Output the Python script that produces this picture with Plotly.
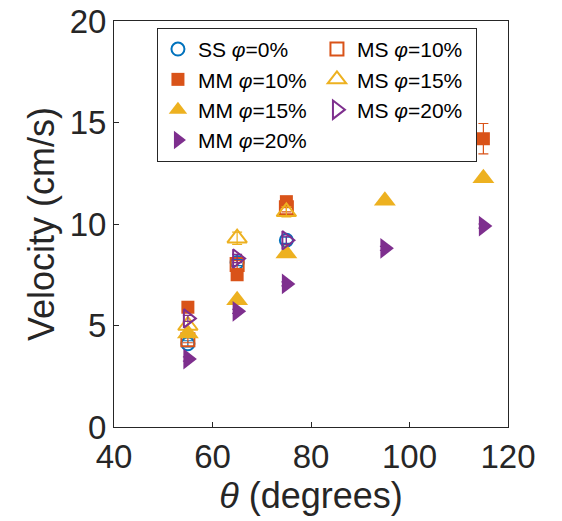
import plotly.graph_objects as go

# ---- data ----
theta_ms = [55, 65, 75]
theta_mm = [55, 65, 75, 95, 115]

ss0_v = [4.1, 8.1, 9.2]
ss0_e = [0.15, 0.15, 0.15]

ms10_v = [4.3, 8.0, 10.8]
ms10_e = [0.15, 0.2, 0.2]
ms15_v = [5.0, 9.3, 10.6]
ms15_e = [0.2, 0.3, 0.25]
ms20_v = [5.35, 8.3, 9.2]
ms20_e = [0.15, 0.2, 0.2]

mm10_v = [5.9, 7.5, 11.1, 13.85, 14.2]
mm10_e = [0.1, 0.1, 0.15, 0.1, 0.75]
mm15_v = [4.6, 6.25, 8.55, 11.15, 12.25]
mm15_e = [0.1, 0.1, 0.1, 0.1, 0.1]
mm20_v = [3.35, 5.7, 7.05, 8.8, 9.9]
mm20_e = [0.1, 0.1, 0.1, 0.1, 0.1]

BLUE = "#0072BD"
ORANGE = "#D95319"
YELLOW = "#EDB120"
PURPLE = "#7E2F8E"

FONT = "Liberation Sans, Arial, Helvetica, sans-serif"

fig = go.Figure()

def add(name, x, y, e, color, symbol, size, open_=False):
    marker = dict(color=color, symbol=symbol, size=size)
    if open_:
        marker["symbol"] = symbol + "-open"
        marker["line"] = dict(color=color, width=2)
    else:
        marker["line"] = dict(width=0)
    fig.add_trace(go.Scatter(
        x=x, y=y, name=name, mode="markers", marker=marker,
        error_y=dict(type="data", array=e, color=color, thickness=1.2, width=5),
    ))

# row-major order so the horizontal legend shows two columns like the reference
add("SS <i>φ</i>=0%", theta_ms, ss0_v, ss0_e, BLUE, "circle", 13, open_=True)
add("MS <i>φ</i>=10%", theta_ms, ms10_v, ms10_e, ORANGE, "square", 13, open_=True)
add("MM <i>φ</i>=10%", theta_mm, mm10_v, mm10_e, ORANGE, "square", 13)
add("MS <i>φ</i>=15%", theta_ms, ms15_v, ms15_e, YELLOW, "triangle-up", 17, open_=True)
add("MM <i>φ</i>=15%", theta_mm, mm15_v, mm15_e, YELLOW, "triangle-up", 19)
add("MS <i>φ</i>=20%", theta_ms, ms20_v, ms20_e, PURPLE, "triangle-right", 16, open_=True)
add("MM <i>φ</i>=20%", theta_mm, mm20_v, mm20_e, PURPLE, "triangle-right", 18)

axis_common = dict(
    showline=True, linecolor="#262626", linewidth=1, mirror=True,
    ticks="inside", ticklen=5, tickcolor="#262626",
    showgrid=False, zeroline=False, automargin=False,
    ticklabeloverflow="allow",
    tickfont=dict(family=FONT, size=33, color="#262626"),
)

# the page body adds an 8px offset, so the figure is 8px smaller with shifted margins
fig.update_layout(
    width=554, height=513,
    margin=dict(l=106, r=54, t=13, b=94),
    paper_bgcolor="white", plot_bgcolor="white",
    font=dict(family=FONT, color="#262626"),
    xaxis=dict(range=[40, 120], tickvals=[40, 60, 80, 100, 120],
               title=dict(text="<i>θ</i> (degrees)", font=dict(family=FONT, size=36, color="#262626"), standoff=2),
               **axis_common),
    yaxis=dict(range=[0, 20], tickvals=[0, 5, 10, 15, 20],
               title=dict(text="Velocity (cm/s)", font=dict(family=FONT, size=36, color="#262626"), standoff=4),
               **axis_common),
    legend=dict(
        orientation="h", x=0.109, y=0.983, xanchor="left", yanchor="top",
        bgcolor="white", bordercolor="#262626", borderwidth=1,
        font=dict(family=FONT, size=21, color="black"),
        entrywidth=114, entrywidthmode="pixels",
        itemwidth=30, tracegroupgap=0,
    ),
    showlegend=True,
)

fig.write_html("out.html")
